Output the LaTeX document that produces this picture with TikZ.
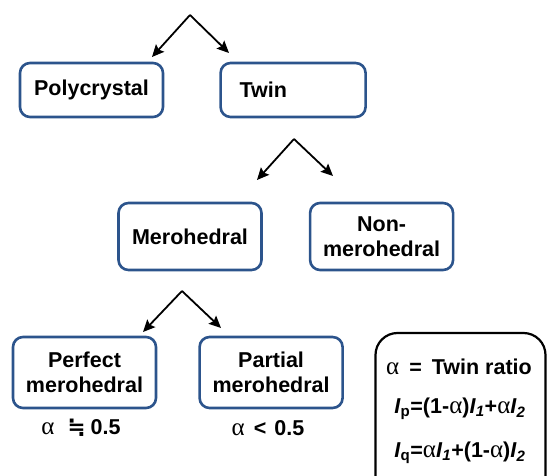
\documentclass[tikz,border=0pt]{standalone}
\usepackage{fontspec}
\setmainfont{Liberation Sans}
\newfontfamily\greekfont{Liberation Serif}
\newfontfamily\symbfont{DejaVu Sans}
\usetikzlibrary{arrows.meta, positioning}
\definecolor{boxblue}{RGB}{44,84,140}
\newcommand{\alp}{{\greekfont\mdseries\fontsize{25}{25}\selectfont α}}
\newcommand{\intn}[1]{\textit{I}\textsubscript{#1}}

\begin{document}
\begin{tikzpicture}[
    x=1pt, y=-1pt,
    font=\fontsize{21.5}{25}\selectfont\bfseries,
    class/.style={draw=boxblue, line width=2.6pt, rounded corners=10pt,
        align=center, inner sep=0pt, minimum width=143pt},
    notebox/.style={draw, line width=2.2pt, rounded corners=22pt},
    arrow/.style={-{Stealth[length=12pt, width=11pt, inset=2pt]}, line width=1.8pt}
]
\useasboundingbox (0,0) rectangle (547,476);
\clip (0,0) rectangle (547,476);

% first split
\node[class, minimum height=54pt] (poly) at (91.5,90) {Polycrystal};
\node[class, minimum height=54pt, minimum width=0pt, text width=107pt,
    align=left, inner xsep=19pt, right=55pt of poly] (twin) {Twin};

% twin types
\node[class, minimum height=67pt] (mero) at (190,236.5) {Merohedral};
\node[class, minimum height=67pt, right=46pt of mero] (nonmero) {Non-\\merohedral};

% merohedral types
\node[class, minimum height=71pt] (perfect) at (84.5,372.5) {Perfect\\merohedral};
\node[class, minimum height=71pt, right=41pt of perfect] (partial) {Partial\\merohedral};

\node (perfectval) at (81,428) {\alp\hspace{13pt}{\symbfont ≒}\hspace{5pt}0.5};
\node (partialval) at (268,428) {\alp\hspace{9pt}<\hspace{8pt}0.5};

% arrows
\coordinate (top1) at (190,15);
\coordinate (top1l) at (152,57);
\coordinate (top1r) at (229,53);
\draw[arrow] (top1) -- (top1l);
\draw[arrow] (top1) -- (top1r);

\coordinate (top2) at (294,139);
\coordinate (top2l) at (257,180);
\coordinate (top2r) at (333,176);
\draw[arrow] (top2) -- (top2l);
\draw[arrow] (top2) -- (top2r);

\coordinate (top3) at (182,291);
\coordinate (top3l) at (143,332);
\coordinate (top3r) at (221,328);
\draw[arrow] (top3) -- (top3l);
\draw[arrow] (top3) -- (top3r);

% legend
\node[notebox, minimum width=170pt, minimum height=165pt] (note) at (460.5,415.5) {};
\node (ratio) at (459,367) {\alp\hspace{10pt}=\hspace{10pt}Twin ratio};
\node (intp) at (460,409) {\intn{p}=(1-\alp)\intn{\itshape 1}+\alp\intn{\itshape 2}};
\node (intq) at (460,453) {\intn{q}=\alp\intn{\itshape 1}+(1-\alp)\intn{\itshape 2}};

\end{tikzpicture}
\end{document}
